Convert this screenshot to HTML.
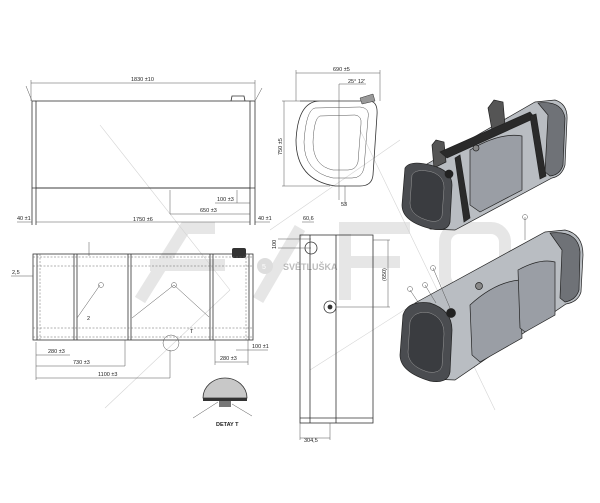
<!DOCTYPE html>
<html><head><meta charset="utf-8"><style>
html,body{margin:0;padding:0;background:#fff;}
svg{display:block;font-family:"Liberation Sans",sans-serif;}
.l{stroke:#333;stroke-width:0.8;fill:none}
.t{stroke:#555;stroke-width:0.5;fill:none}
.d{stroke:#666;stroke-width:0.5;fill:none;stroke-dasharray:2 1.5}
.tx{font-size:5.5px;fill:#222}
</style></head><body>
<svg width="600" height="503" viewBox="0 0 600 503">
<rect width="600" height="503" fill="#fff"/>
<!-- watermark -->
<g stroke="#e6e6e6" stroke-width="12" fill="none" stroke-linecap="butt">
<path d="M140 300 L185 228 L215 228"/>
<path d="M150 265 L225 265"/>
<path d="M258 300 L300 228"/>
<path d="M345 300 L345 228 L410 228"/>
<path d="M345 262 L400 262"/>
<rect x="445" y="228" width="60" height="62" rx="14"/>
</g>
<g stroke="#d4d4d4" stroke-width="0.6">
<line x1="100" y1="125" x2="230" y2="290"/>
<line x1="105" y1="408" x2="230" y2="290"/>
<line x1="360" y1="130" x2="495" y2="410"/>
<line x1="270" y1="230" x2="400" y2="140"/>
<line x1="310" y1="370" x2="420" y2="300"/>
</g>
<circle cx="265" cy="266" r="8" fill="#ddd"/>
<text x="262" y="269" font-size="7" fill="#fff">5</text>
<text x="283" y="270" font-size="9" font-weight="bold" fill="#bbb">SVĚTLUŠKA</text>

<!-- top-left view -->
<g class="l">
<rect x="36" y="101" width="214" height="87"/>
<line x1="32" y1="101" x2="32" y2="225"/><line x1="36" y1="188" x2="36" y2="225"/>
<line x1="255" y1="101" x2="255" y2="225"/><line x1="250" y1="188" x2="250" y2="225"/>
<line x1="32" y1="101" x2="36" y2="101"/><line x1="250" y1="101" x2="255" y2="101"/>
<line x1="32" y1="188" x2="255" y2="188"/>
<path d="M231 101 L232 96 L244 96 L245 101"/>
</g>
<g class="t">
<line x1="31" y1="83" x2="255" y2="83"/><line x1="31" y1="80" x2="31" y2="101"/><line x1="255" y1="80" x2="255" y2="101"/>
<line x1="26" y1="86" x2="32" y2="101"/><line x1="262" y1="88" x2="255" y2="101"/>
<line x1="36" y1="222" x2="250" y2="222"/><line x1="17" y1="222" x2="32" y2="222"/><line x1="255" y1="222" x2="270" y2="222"/>
<line x1="170" y1="214" x2="250" y2="214"/><line x1="170" y1="190" x2="170" y2="214"/>
<line x1="237" y1="190" x2="237" y2="203"/><line x1="215" y1="203" x2="250" y2="203"/>
</g>
<text class="tx" x="131" y="81">1830 ±10</text>
<text class="tx" x="133" y="221">1750 ±6</text>
<text class="tx" x="200" y="212">650 ±3</text>
<text class="tx" x="217" y="201">100 ±3</text>
<text class="tx" x="17" y="220">40 ±1</text>
<text class="tx" x="258" y="220">40 ±1</text>

<!-- lower-left view -->
<g class="l">
<rect x="33" y="254" width="220" height="86"/>
<line x1="37" y1="254" x2="37" y2="340"/><line x1="249" y1="254" x2="249" y2="340"/>
<line x1="74" y1="254" x2="74" y2="340"/><line x1="77" y1="254" x2="77" y2="340"/>
<line x1="128" y1="254" x2="128" y2="340"/><line x1="131" y1="254" x2="131" y2="340"/>
<line x1="210" y1="254" x2="210" y2="340"/><line x1="213" y1="254" x2="213" y2="340"/>
</g>
<rect x="232" y="248" width="14" height="10" rx="2" fill="#333"/>
<g class="d">
<line x1="33" y1="257" x2="253" y2="257"/><line x1="33" y1="266" x2="253" y2="266"/>
<line x1="33" y1="328" x2="253" y2="328"/><line x1="33" y1="337" x2="253" y2="337"/>
<line x1="40" y1="254" x2="40" y2="340"/><line x1="246" y1="254" x2="246" y2="340"/>
</g>
<g class="t">
<line x1="100" y1="285" x2="77" y2="318"/><line x1="174" y1="285" x2="132" y2="318"/><line x1="174" y1="285" x2="209" y2="317"/>
<circle cx="101" cy="285" r="2.5"/><circle cx="174" cy="285" r="2.5"/>
<circle cx="171" cy="343" r="8"/>
<line x1="36" y1="342" x2="36" y2="380"/>
<line x1="36" y1="355" x2="70" y2="355"/><line x1="36" y1="366" x2="125" y2="366"/><line x1="125" y1="340" x2="125" y2="366"/>
<line x1="36" y1="378" x2="170" y2="378"/><line x1="170" y1="350" x2="170" y2="378"/>
<line x1="215" y1="340" x2="215" y2="365"/><line x1="215" y1="362" x2="248" y2="362"/><line x1="248" y1="340" x2="248" y2="365"/>
<line x1="236" y1="350" x2="268" y2="350"/>
<line x1="11" y1="276" x2="33" y2="276"/>
<line x1="89" y1="242" x2="89" y2="256"/>
</g>
<text class="tx" x="48" y="353">280 ±3</text>
<text class="tx" x="73" y="364">730 ±3</text>
<text class="tx" x="98" y="376">1100 ±3</text>
<text class="tx" x="220" y="360">280 ±3</text>
<text class="tx" x="252" y="348">100 ±1</text>
<text class="tx" x="12" y="274">2,5</text>
<text class="tx" x="87" y="320">2</text>
<text class="tx" x="190" y="333">T</text>
<!-- detail T -->
<path d="M203 398 A22 20 0 0 1 247 398 Z" fill="#c8c8c8" stroke="#333" stroke-width="0.8"/>
<rect x="203" y="398" width="44" height="3" fill="#333"/>
<rect x="219" y="401" width="12" height="6" fill="#777"/>
<g class="t"><line x1="193" y1="418" x2="218" y2="402"/><line x1="232" y1="404" x2="252" y2="416"/></g>
<text class="tx" x="216" y="426" font-weight="bold">DETAY T</text>

<!-- side view -->
<path class="l" d="M300 101 L370 101 Q378 102 377 115 L373 175 Q372 186 360 186 L335 186 Q296 180 296 140 Q298 101 320 101" />
<path class="t" d="M315 108 L360 107 Q370 108 368 118 L364 168 Q362 178 352 178 L333 178 Q304 172 304 142 Q306 110 315 108"/>
<path class="t" d="M320 116 L355 115 Q362 116 361 124 L358 162 Q356 170 348 170 L333 170 Q313 166 313 142 Q314 118 320 116"/>
<g class="t">
<line x1="296" y1="73" x2="380" y2="73"/><line x1="296" y1="70" x2="296" y2="101"/><line x1="380" y1="70" x2="380" y2="101"/>
<line x1="284" y1="101" x2="284" y2="186"/><line x1="282" y1="101" x2="300" y2="101"/><line x1="282" y1="186" x2="330" y2="186"/>
<line x1="339" y1="84" x2="339" y2="200"/><line x1="339" y1="84" x2="366" y2="84"/>
<line x1="345" y1="186" x2="345" y2="205"/>
</g>
<path d="M360 98 L373 94 L375 101 L362 104Z" fill="#999" stroke="#333" stroke-width="0.5"/>
<text class="tx" x="333" y="71">690 ±5</text>
<text class="tx" x="348" y="83">25° 12'</text>
<text class="tx" x="277" y="150" transform="rotate(-90 282 150)">750 ±5</text>
<text class="tx" x="341" y="206">53</text>

<!-- middle lower view -->
<g class="l">
<rect x="300" y="235" width="73" height="188"/>
<line x1="310" y1="235" x2="310" y2="423"/><line x1="336" y1="235" x2="336" y2="423"/>
<line x1="300" y1="418" x2="373" y2="418"/>
<circle cx="311" cy="248" r="6"/><circle cx="330" cy="307" r="6"/>
<circle cx="330" cy="307" r="2" fill="#333"/>
</g>
<g class="t">
<line x1="388" y1="240" x2="388" y2="307"/><line x1="373" y1="240" x2="390" y2="240"/><line x1="336" y1="307" x2="390" y2="307"/>
<line x1="278" y1="239" x2="311" y2="239"/><line x1="278" y1="248" x2="311" y2="248"/>
<line x1="300" y1="438" x2="330" y2="438"/><line x1="300" y1="423" x2="300" y2="440"/><line x1="330" y1="423" x2="330" y2="440"/>
<line x1="302" y1="222" x2="314" y2="222"/>
</g>
<text class="tx" x="303" y="220">60,6</text>
<text class="tx" x="304" y="442">304,5</text>
<text class="tx" x="381" y="276" transform="rotate(-90 386 276)">(650)</text>
<text class="tx" x="272" y="245" transform="rotate(-90 276 245)">100</text>

<!-- upper 3D tank -->
<g stroke="#222" stroke-width="0.7">
<path d="M420 168 L535 102 L555 100 Q568 104 567 120 L565 165 Q562 176 552 178 L455 230 L430 229Z" fill="#b9bdc2"/>
<path d="M538 103 Q562 100 565 118 L563 165 Q560 175 550 176 L545 172 L548 115Z" fill="#6f7277"/>
<path d="M470 150 Q500 132 522 136 L522 190 L480 212 L470 205Z" fill="#9a9ea5"/>
<path d="M432 145 L436 140 L444 142 L446 162 L434 168Z" fill="#555"/>
<path d="M488 108 L494 100 L503 102 L505 125 L492 130Z" fill="#555"/>
<path d="M440 152 L530 112 L535 118 L447 158Z" fill="#2a2a2a"/>
<path d="M455 158 L460 155 L470 218 L464 222Z" fill="#2a2a2a"/>
<path d="M530 116 L536 114 L546 176 L540 179Z" fill="#2a2a2a"/>
<path d="M405 168 Q410 160 430 165 Q452 170 452 185 L450 222 Q448 232 432 229 Q402 222 402 205Z" fill="#4a4c50"/>
<path d="M412 175 Q416 168 432 172 Q444 176 444 188 L442 216 Q440 223 430 221 Q410 216 410 203Z" fill="#3a3c40" stroke="#999" stroke-width="0.5"/>
<circle cx="449" cy="174" r="4" fill="#222"/>
<circle cx="476" cy="148" r="3" fill="#888"/>
</g>
<!-- lower 3D tank -->
<g stroke="#222" stroke-width="0.7">
<path d="M415 303 L545 232 L565 230 Q583 234 583 255 L581 292 Q578 302 566 304 L455 380 L430 379Z" fill="#b9bdc2"/>
<path d="M550 233 Q578 230 580 252 L579 290 Q576 300 565 302 L560 298 L562 250Z" fill="#6f7277"/>
<path d="M470 305 Q495 282 520 280 L522 338 L480 362 L472 355Z" fill="#9a9ea5"/>
<path d="M518 270 Q540 258 555 262 L555 315 L525 332 L520 328Z" fill="#9a9ea5"/>
<path d="M403 315 Q408 300 430 303 Q452 310 452 330 L450 372 Q448 384 430 381 Q400 372 400 355Z" fill="#4a4c50"/>
<path d="M410 322 Q414 310 430 313 Q444 318 444 334 L442 366 Q440 374 428 372 Q408 366 408 352Z" fill="#3a3c40" stroke="#999" stroke-width="0.5"/>
<circle cx="451" cy="313" r="4.5" fill="#222"/>
<circle cx="479" cy="286" r="3.5" fill="#888"/>
</g>
<g class="t"><line x1="525" y1="217" x2="525" y2="240"/><line x1="433" y1="268" x2="450" y2="308"/><line x1="410" y1="290" x2="420" y2="305"/><line x1="425" y1="285" x2="436" y2="303"/></g>
<g class="t"><circle cx="525" cy="217" r="2.5"/><circle cx="433" cy="268" r="2.5"/><circle cx="410" cy="289" r="2.5"/><circle cx="425" cy="285" r="2.5"/></g>
</svg>
</body></html>
